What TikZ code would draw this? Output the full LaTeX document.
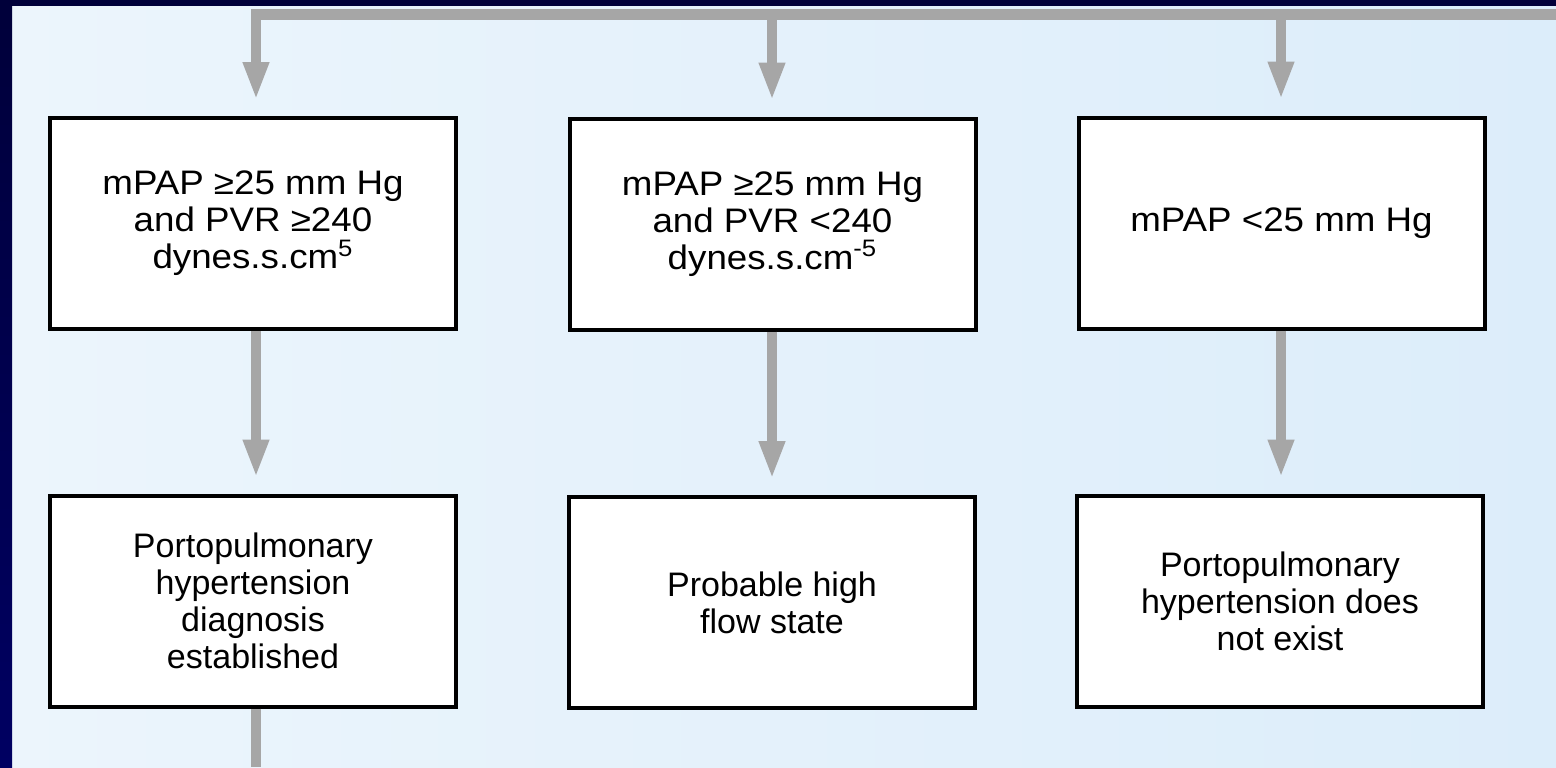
\documentclass[tikz,border=0pt]{standalone}
\usepackage{fontspec}
\setmainfont{Liberation Sans}
\newfontfamily\widefont{Liberation Sans}[FakeStretch=1.08]
\usetikzlibrary{arrows.meta,calc}
\definecolor{frameA}{RGB}{0,0,58}
\definecolor{frameB}{RGB}{0,0,98}
\definecolor{panelL}{RGB}{236,245,252}
\definecolor{panelR}{RGB}{220,237,250}
\definecolor{conngray}{RGB}{166,166,166}
\begin{document}
\begin{tikzpicture}[x=0.5pt,y=-0.5pt,
  box/.style={draw=black,line width=2pt,fill=white,minimum width=203pt,minimum height=105.5pt,
    inner sep=0pt,align=center,font=\fontsize{17pt}{18.5pt}\selectfont},
  topbox/.style={box,font=\widefont\fontsize{17pt}{18.5pt}\selectfont},
  conn/.style={draw=conngray,line width=5.25pt,line join=miter,
    -{Triangle[width=12pt,length=19pt]},shorten >=8pt},
  plain/.style={draw=conngray,line width=5.25pt}]
\useasboundingbox (0,0) rectangle (1556,767);
\shade[left color=panelL,right color=panelR] (0,0) rectangle (1556,767);
\fill[frameA] (0,0) rectangle (1556,6);
\shade[top color=frameA,bottom color=frameB] (0,0) rectangle (12,767);

% boxes
\node[topbox] (t1) at (253,223.5) {mPAP ≥25 mm Hg\\and PVR ≥240\\dynes.s.cm\textsuperscript{5}};
\node[topbox] (t2) at (772.5,224) {mPAP ≥25 mm Hg\\and PVR <240\\dynes.s.cm\textsuperscript{-5}};
\node[topbox] (t3) at (1281.5,223) {mPAP <25 mm Hg};
\node[box] (b1) at (253,601) {Portopulmonary\\hypertension\\diagnosis\\established};
\node[box] (b2) at (772,602.5) {Probable high\\flow state};
\node[box] (b3) at (1280,601) {Portopulmonary\\hypertension does\\not exist};

% connector coordinates
\coordinate (busR) at (1556,14.5);
\coordinate (x1) at (256,0);
\coordinate (x2) at (772,0);
\coordinate (x3) at (1281,0);
\coordinate (out) at (256,767);

% connectors
\draw[conn] (busR) -- (x1 |- busR) -- (x1 |- t1.north);
\draw[conn] (x2 |- busR) -- (x2 |- t2.north);
\draw[conn] (x3 |- busR) -- (x3 |- t3.north);
\draw[conn] (x1 |- t1.south) -- (x1 |- b1.north);
\draw[conn] (x2 |- t2.south) -- (x2 |- b2.north);
\draw[conn] (x3 |- t3.south) -- (x3 |- b3.north);
\draw[plain] (x1 |- b1.south) -- (out);
\end{tikzpicture}
\end{document}
